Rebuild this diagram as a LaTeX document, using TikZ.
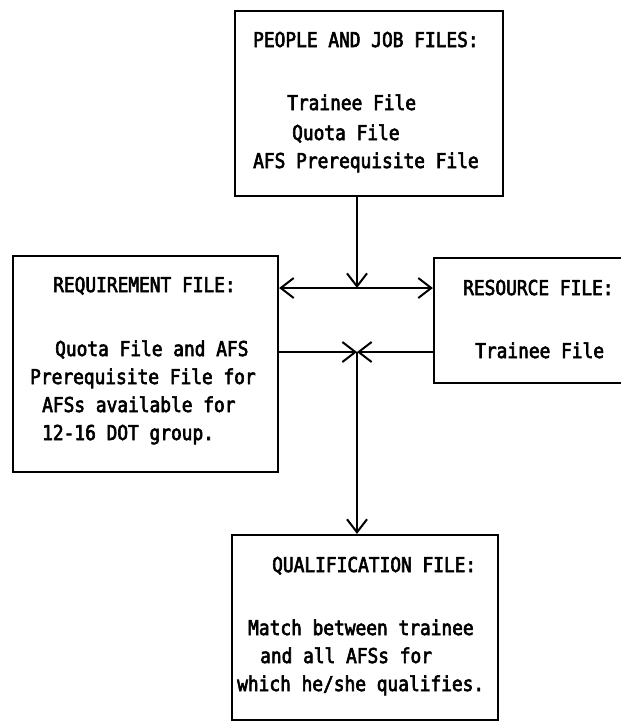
\documentclass[tikz,border=0pt]{standalone}
\usepackage{fontspec}
\newfontfamily\typew[FakeStretch=0.87,FakeBold=3]{DejaVu Sans Mono}
\usetikzlibrary{arrows.meta}
\begin{document}
\begin{tikzpicture}[x=1pt,y=-1pt,
  box/.style={draw, line width=2.2pt, inner sep=0pt, rectangle},
  txt/.style={anchor=base west, inner sep=0pt, font=\typew\fontsize{20.5}{28}\selectfont},
  conn/.style={line width=2pt, >={Straight Barb[length=13pt,width=20pt]}}
]
\useasboundingbox (0,0) rectangle (621,721);
% boxes
\node[box, minimum width=268pt, minimum height=185pt] (people) at (369,103.5) {};
\node[box, minimum width=265pt, minimum height=216pt] (req) at (145.5,364) {};
\node[box, minimum width=206pt, minimum height=125pt] (res) at (537,320.5) {};
\node[box, minimum width=266pt, minimum height=185pt] (qual) at (365,627.5) {};
% texts: people
\node[txt] (p1) at (253,47) {PEOPLE AND JOB FILES:};
\node[txt] (p2) at (287,110) {Trainee File};
\node[txt] (p3) at (292,140) {Quota File};
\node[txt] (p4) at (253,168) {AFS Prerequisite File};
% requirement
\node[txt] (r1) at (53,292) {REQUIREMENT FILE:};
\node[txt] (r2) at (55,356) {Quota File and AFS};
\node[txt] (r3) at (30,384) {Prerequisite File for};
\node[txt] (r4) at (42,412) {AFSs available for};
\node[txt] (r5) at (42,440) {12-16 DOT group.};
% resource
\node[txt] (s1) at (463,295) {RESOURCE FILE:};
\node[txt] (s2) at (475,358) {Trainee File};
% qualification
\node[txt] (q1) at (272,572) {QUALIFICATION FILE:};
\node[txt] (q2) at (248,635) {Match between trainee};
\node[txt] (q3) at (260,663) {and all AFSs for};
\node[txt] (q4) at (237,691) {which he/she qualifies.};
% connectors
\coordinate (j1) at (357,288);
\coordinate (j2) at (357,352);
\draw[conn,->] (people.south -| j1) -- (j1);
\draw[conn,<->] (req.east |- j1) -- (res.west |- j1);
\draw[conn,->] (req.east |- j2) -- (j2);
\draw[conn,->] (res.west |- j2) -- (j2);
\draw[conn,->] (j2) -- (qual.north -| j2);
\end{tikzpicture}
\end{document}
